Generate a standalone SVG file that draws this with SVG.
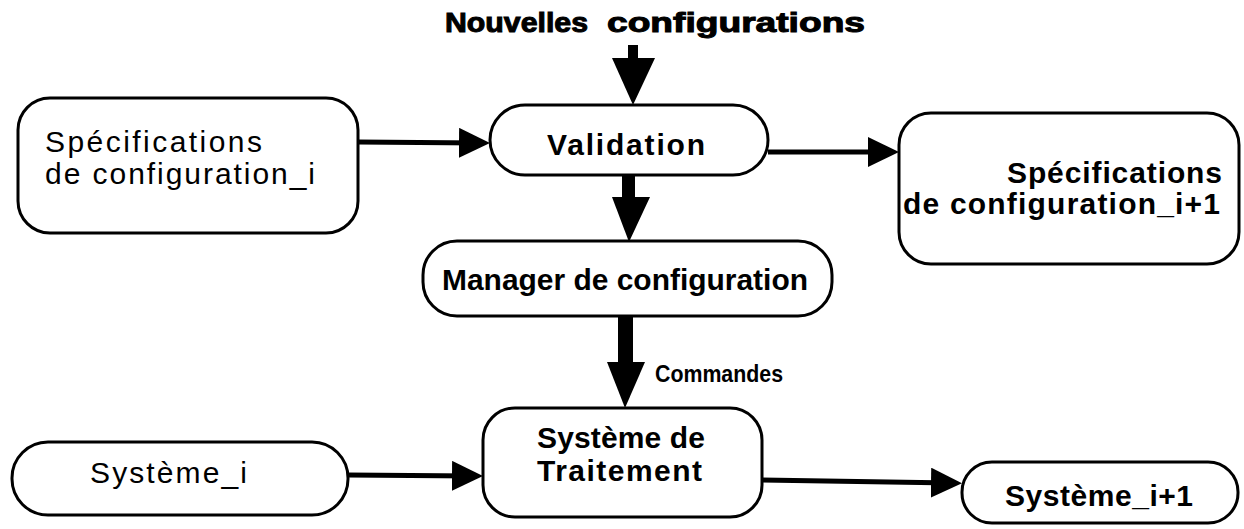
<svg xmlns="http://www.w3.org/2000/svg" width="1244" height="529" viewBox="0 0 1244 529">
<style>
.box{fill:#fff;stroke:#000;stroke-width:3}
.t{font-family:"Liberation Sans",Arial,sans-serif;font-size:30px;fill:#000}
.b{font-weight:bold}
.title{font-family:"Liberation Sans",Arial,sans-serif;font-size:27px;font-weight:bold;fill:#000;stroke:#000;stroke-width:1}
.cmd{font-family:"Liberation Sans",Arial,sans-serif;font-size:24px;font-weight:bold;fill:#000}
.line{stroke:#000;stroke-width:5;fill:none}
.head{fill:#000}
</style>
<defs>
<marker id="arr" markerUnits="userSpaceOnUse" markerWidth="32" markerHeight="31" refX="21" refY="15" orient="auto">
<path d="M0,0 L31,15 L0,30 Z" fill="#000"/>
</marker>
</defs>
<rect width="1244" height="529" fill="#fff"/>
<text class="title" x="445" y="32" textLength="143" lengthAdjust="spacingAndGlyphs">Nouvelles</text>
<text class="title" x="607" y="32" textLength="258" lengthAdjust="spacingAndGlyphs">configurations</text>
<g id="connectors">
<line class="line" x1="358" y1="142" x2="480" y2="143" marker-end="url(#arr)"/>
<line class="line" x1="768" y1="152" x2="889" y2="152" marker-end="url(#arr)"/>
<line class="line" x1="348" y1="475" x2="473" y2="476" marker-end="url(#arr)"/>
<line class="line" x1="762" y1="480" x2="952" y2="483" marker-end="url(#arr)"/>
<rect class="head" x="628" y="45" width="10" height="14"/>
<polygon class="head" points="612,58 655,58 633,105"/>
<rect class="head" x="622" y="174" width="13" height="24"/>
<polygon class="head" points="612,197 650,197 629,242"/>
<rect class="head" x="618" y="312" width="15" height="51"/>
<polygon class="head" points="607,362 645,362 625,408"/>
<text class="cmd" x="655" y="382" textLength="128" lengthAdjust="spacingAndGlyphs">Commandes</text>
</g>
<g id="spec-i">
<rect class="box" x="18" y="98" width="340" height="135" rx="32"/>
<text class="t" x="45" y="152" textLength="217" lengthAdjust="spacing">Spécifications</text>
<text class="t" x="45" y="184" textLength="270" lengthAdjust="spacing">de configuration_i</text>
</g>
<g id="validation">
<rect class="box" x="490" y="105" width="278" height="70" rx="35"/>
<text class="t b" x="547" y="155" textLength="158" lengthAdjust="spacing">Validation</text>
</g>
<g id="spec-i1">
<rect class="box" x="899" y="113" width="340" height="151" rx="32"/>
<text class="t b" x="1007" y="183" textLength="215" lengthAdjust="spacing">Spécifications</text>
<text class="t b" x="903" y="214" textLength="317" lengthAdjust="spacing">de configuration_i+1</text>
</g>
<g id="manager">
<rect class="box" x="423" y="241" width="409" height="75" rx="34"/>
<text class="t b" x="442" y="290" textLength="366" lengthAdjust="spacingAndGlyphs">Manager de configuration</text>
</g>
<g id="systeme-i">
<rect class="box" x="12" y="442" width="336" height="73" rx="36"/>
<text class="t" x="90" y="483" textLength="157" lengthAdjust="spacing">Système_i</text>
</g>
<g id="traitement">
<rect class="box" x="483" y="408" width="279" height="109" rx="32"/>
<text class="t b" x="537" y="448" textLength="168" lengthAdjust="spacing">Système de</text>
<text class="t b" x="537" y="481" textLength="165" lengthAdjust="spacing">Traitement</text>
</g>
<g id="systeme-i1">
<rect class="box" x="962" y="462" width="276" height="61" rx="30"/>
<text class="t b" x="1005" y="506" textLength="188" lengthAdjust="spacing">Système_i+1</text>
</g>
</svg>
